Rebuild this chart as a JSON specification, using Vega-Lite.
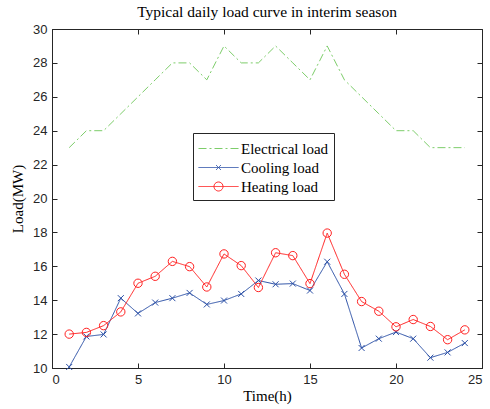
{
  "$schema": "https://vega.github.io/schema/vega-lite/v6.json",
  "width": 430,
  "height": 339,
  "autosize": {"type": "none"},
  "padding": {"left": 52, "top": 29, "right": 8, "bottom": 41},
  "background": "white",
  "title": {"text": "Typical daily load curve in interim season", "font": "Liberation Serif", "fontSize": 15.5, "fontWeight": "normal", "color": "#000000", "offset": 3, "anchor": "middle"},
  "config": {
    "view": {"stroke": "#262626", "strokeWidth": 1},
    "axis": {"domainColor": "#262626", "tickColor": "#262626", "labelColor": "#262626", "labelFont": "Liberation Sans", "labelFontSize": 13, "grid": false, "tickSize": -5, "titleFont": "Liberation Serif", "titleFontSize": 15, "titleFontWeight": "normal", "titleColor": "#000000"},
    "legend": {"orient": "none", "legendX": 141, "legendY": 104, "fillColor": "white", "strokeColor": "#262626", "padding": 5, "labelFont": "Liberation Serif", "labelFontSize": 15, "labelColor": "#000000", "symbolSize": 400, "symbolStrokeWidth": 1, "symbolOffset": 10, "labelOffset": 12, "rowPadding": 0, "symbolOpacity": 1}
  },
  "data": {"values": [
    {"t":1,"s":"Electrical load","v":23},{"t":2,"s":"Electrical load","v":24},{"t":3,"s":"Electrical load","v":24},{"t":4,"s":"Electrical load","v":25},{"t":5,"s":"Electrical load","v":26},{"t":6,"s":"Electrical load","v":27},{"t":7,"s":"Electrical load","v":28},{"t":8,"s":"Electrical load","v":28},{"t":9,"s":"Electrical load","v":27},{"t":10,"s":"Electrical load","v":29},{"t":11,"s":"Electrical load","v":28},{"t":12,"s":"Electrical load","v":28},{"t":13,"s":"Electrical load","v":29},{"t":14,"s":"Electrical load","v":28},{"t":15,"s":"Electrical load","v":27},{"t":16,"s":"Electrical load","v":29},{"t":17,"s":"Electrical load","v":27},{"t":18,"s":"Electrical load","v":26},{"t":19,"s":"Electrical load","v":25},{"t":20,"s":"Electrical load","v":24},{"t":21,"s":"Electrical load","v":24},{"t":22,"s":"Electrical load","v":23},{"t":23,"s":"Electrical load","v":23},{"t":24,"s":"Electrical load","v":23},
    {"t":1,"s":"Cooling load","v":10.06},{"t":2,"s":"Cooling load","v":11.86},{"t":3,"s":"Cooling load","v":11.98},{"t":4,"s":"Cooling load","v":14.12},{"t":5,"s":"Cooling load","v":13.22},{"t":6,"s":"Cooling load","v":13.86},{"t":7,"s":"Cooling load","v":14.12},{"t":8,"s":"Cooling load","v":14.43},{"t":9,"s":"Cooling load","v":13.75},{"t":10,"s":"Cooling load","v":13.98},{"t":11,"s":"Cooling load","v":14.37},{"t":12,"s":"Cooling load","v":15.16},{"t":13,"s":"Cooling load","v":14.94},{"t":14,"s":"Cooling load","v":14.98},{"t":15,"s":"Cooling load","v":14.57},{"t":16,"s":"Cooling load","v":16.27},{"t":17,"s":"Cooling load","v":14.37},{"t":18,"s":"Cooling load","v":11.18},{"t":19,"s":"Cooling load","v":11.73},{"t":20,"s":"Cooling load","v":12.12},{"t":21,"s":"Cooling load","v":11.73},{"t":22,"s":"Cooling load","v":10.61},{"t":23,"s":"Cooling load","v":10.92},{"t":24,"s":"Cooling load","v":11.47},
    {"t":1,"s":"Heating load","v":12.0},{"t":2,"s":"Heating load","v":12.1},{"t":3,"s":"Heating load","v":12.5},{"t":4,"s":"Heating load","v":13.31},{"t":5,"s":"Heating load","v":15.0},{"t":6,"s":"Heating load","v":15.41},{"t":7,"s":"Heating load","v":16.29},{"t":8,"s":"Heating load","v":15.98},{"t":9,"s":"Heating load","v":14.78},{"t":10,"s":"Heating load","v":16.73},{"t":11,"s":"Heating load","v":16.04},{"t":12,"s":"Heating load","v":14.75},{"t":13,"s":"Heating load","v":16.8},{"t":14,"s":"Heating load","v":16.63},{"t":15,"s":"Heating load","v":14.98},{"t":16,"s":"Heating load","v":17.96},{"t":17,"s":"Heating load","v":15.53},{"t":18,"s":"Heating load","v":13.92},{"t":19,"s":"Heating load","v":13.35},{"t":20,"s":"Heating load","v":12.43},{"t":21,"s":"Heating load","v":12.86},{"t":22,"s":"Heating load","v":12.45},{"t":23,"s":"Heating load","v":11.67},{"t":24,"s":"Heating load","v":12.25}
  ]},
  "resolve": {"scale": {"color": "independent", "shape": "independent", "strokeDash": "independent"}, "axis": {"x": "independent", "y": "independent"}},
  "layer": [
    {
      "mark": {"type": "line", "strokeWidth": 1},
      "encoding": {
        "x": {"field": "t", "type": "quantitative", "scale": {"domain": [0, 25], "nice": false}, "axis": {"values": [0,5,10,15,20,25], "title": "Time(h)", "labelPadding": 10, "titlePadding": 2}},
        "y": {"field": "v", "type": "quantitative", "scale": {"domain": [10, 30], "nice": false, "zero": false}, "axis": {"values": [10,12,14,16,18,20,22,24,26,28,30], "title": "Load(MW)", "labelPadding": 10, "titlePadding": 7}},
        "color": {"field": "s", "type": "nominal", "scale": {"domain": ["Electrical load","Cooling load","Heating load"], "range": ["#7dcd6a","#2a4fa6","#ff1f1f"]}, "legend": null},
        "strokeDash": {"field": "s", "type": "nominal", "scale": {"domain": ["Electrical load","Cooling load","Heating load"], "range": [[8,3,2,3],[1,0],[1,0]]}, "legend": null}
      }
    },
    {
      "transform": [{"filter": "datum.s !== 'Electrical load'"}],
      "mark": {"type": "point", "filled": false, "strokeWidth": 1, "opacity": 1},
      "encoding": {
        "x": {"field": "t", "type": "quantitative", "axis": {"orient": "top", "values": [0,5,10,15,20,25], "labels": false, "title": null, "domain": false}},
        "y": {"field": "v", "type": "quantitative", "axis": {"orient": "right", "values": [10,12,14,16,18,20,22,24,26,28,30], "labels": false, "title": null, "domain": false}},
        "color": {"field": "s", "type": "nominal", "scale": {"domain": ["Electrical load","Cooling load","Heating load"], "range": ["#7dcd6a","#2a4fa6","#ff1f1f"]}, "legend": null},
        "shape": {"field": "s", "type": "nominal", "scale": {"domain": ["Cooling load","Heating load"], "range": ["M-1,-1L1,1M-1,1L1,-1", "circle"]}, "legend": null},
        "size": {"field": "s", "type": "nominal", "scale": {"domain": ["Cooling load","Heating load"], "range": [36, 70]}, "legend": null}
      }
    },
    {
      "transform": [{"filter": "false"}],
      "mark": {"type": "point", "filled": false, "strokeWidth": 1},
      "encoding": {
        "x": {"field": "t", "type": "quantitative", "axis": null},
        "y": {"field": "v", "type": "quantitative", "axis": null},
        "color": {"field": "s", "type": "nominal", "title": null, "scale": {"domain": ["Electrical load","Cooling load","Heating load"], "range": ["#7dcd6a","#2a4fa6","#ff1f1f"]}, "legend": {"labelFont": "Liberation Serif", "labelFontSize": 15, "labelOffset": 12, "symbolOffset": 10}},
        "shape": {"field": "s", "type": "nominal", "title": null, "scale": {"domain": ["Electrical load","Cooling load","Heating load"], "range": ["M-2,0H2", "M-2,0H2M-0.25,-0.25L0.25,0.25M-0.25,0.25L0.25,-0.25", "M-2,0H2M0.45,0C0.45,0.2485,0.2485,0.45,0,0.45C-0.2485,0.45,-0.45,0.2485,-0.45,0C-0.45,-0.2485,-0.2485,-0.45,0,-0.45C0.2485,-0.45,0.45,-0.2485,0.45,0Z"]}, "legend": {"labelFont": "Liberation Serif", "labelFontSize": 15, "labelOffset": 12, "symbolOffset": 10}},
        "strokeDash": {"field": "s", "type": "nominal", "title": null, "scale": {"domain": ["Electrical load","Cooling load","Heating load"], "range": [[8,3,2,3],[1,0],[1,0]]}, "legend": {"labelFont": "Liberation Serif", "labelFontSize": 15, "labelOffset": 12, "symbolOffset": 10}}
      }
    }
  ]
}
